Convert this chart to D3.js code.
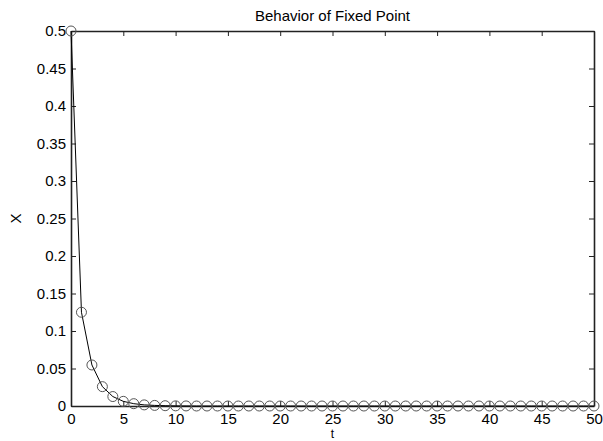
<!DOCTYPE html>
<html><head><meta charset="utf-8">
<script src="https://cdn.jsdelivr.net/npm/d3@7"></script>
<style>body{margin:0;background:#fff}svg{display:block}text{font-family:"Liberation Sans",Arial,sans-serif;fill:#000}</style>
</head><body>
<script>
const title = "Behavior of Fixed Point";
const xLabel = "t";
const yLabel = "X";
const tValues = d3.range(0, 51);
const xValues = [0.5, 0.125, 0.0547, 0.0258, 0.0126, 0.0062, 0.0031, 0.0015, 0.0008, 0.0004, 0.0002, 0.0001,
  0, 0, 0, 0, 0, 0, 0, 0, 0, 0, 0, 0, 0, 0, 0, 0, 0, 0, 0, 0, 0, 0, 0, 0, 0, 0, 0, 0, 0, 0, 0, 0, 0, 0, 0, 0, 0, 0, 0];
const xTicks = [0, 5, 10, 15, 20, 25, 30, 35, 40, 45, 50];
const yTicks = [0, 0.05, 0.1, 0.15, 0.2, 0.25, 0.3, 0.35, 0.4, 0.45, 0.5];
const yTickLabels = ["0", "0.05", "0.1", "0.15", "0.2", "0.25", "0.3", "0.35", "0.4", "0.45", "0.5"];

const W = 603, H = 441;
const L = 71, R = 594, T = 31, B = 406;
const svg = d3.select("body").append("svg").attr("width", W).attr("height", H);
const x = d3.scaleLinear().domain([0, 50]).range([L, R]);
const y = d3.scaleLinear().domain([0, 0.5]).range([B, T]);
const data = tValues.map((t, i) => ({t, v: xValues[i]}));

const fs = 15, tl = 5;
const gx = svg.append("g").attr("transform", `translate(0,${B})`)
  .call(d3.axisBottom(x).tickValues(xTicks).tickSizeInner(-tl).tickSizeOuter(0).tickPadding(7).tickFormat(d3.format("d")));
const gy = svg.append("g").attr("transform", `translate(${L},0)`)
  .call(d3.axisLeft(y).tickValues(yTicks).tickSizeInner(-tl).tickSizeOuter(0).tickPadding(5).tickFormat((d, i) => yTickLabels[i]));
const gxt = svg.append("g").attr("transform", `translate(0,${T})`)
  .call(d3.axisTop(x).tickValues(xTicks).tickSizeInner(-tl).tickSizeOuter(0).tickFormat(""));
const gyr = svg.append("g").attr("transform", `translate(${R},0)`)
  .call(d3.axisRight(y).tickValues(yTicks).tickSizeInner(-tl).tickSizeOuter(0).tickFormat(""));
[gx, gy, gxt, gyr].forEach(g => {
  g.select(".domain").attr("stroke", "#222").attr("stroke-width", 1.6);
  g.selectAll(".tick line").attr("stroke", "#222").attr("stroke-width", 1);
  g.selectAll(".tick text").attr("font-size", fs).attr("font-family", "'Liberation Sans',Arial,sans-serif").attr("fill", "#000");
});

svg.append("path").datum(data)
  .attr("fill", "none").attr("stroke", "#000").attr("stroke-width", 1)
  .attr("d", d3.line().x(d => x(d.t)).y(d => y(d.v)));
svg.append("g").selectAll("circle").data(data).join("circle")
  .attr("cx", d => x(d.t)).attr("cy", d => y(d.v)).attr("r", 5)
  .attr("fill", "none").attr("stroke", "#555").attr("stroke-width", 1);

svg.append("text").attr("x", (L + R) / 2).attr("y", 21).attr("text-anchor", "middle").attr("font-size", fs).text(title);
svg.append("text").attr("x", (L + R) / 2).attr("y", 438).attr("text-anchor", "middle").attr("font-size", 12).text(xLabel);
svg.append("text").attr("transform", `translate(21,${(T + B) / 2}) rotate(-90)`).attr("text-anchor", "middle").attr("font-size", fs).text(yLabel);
</script>
</body></html>
